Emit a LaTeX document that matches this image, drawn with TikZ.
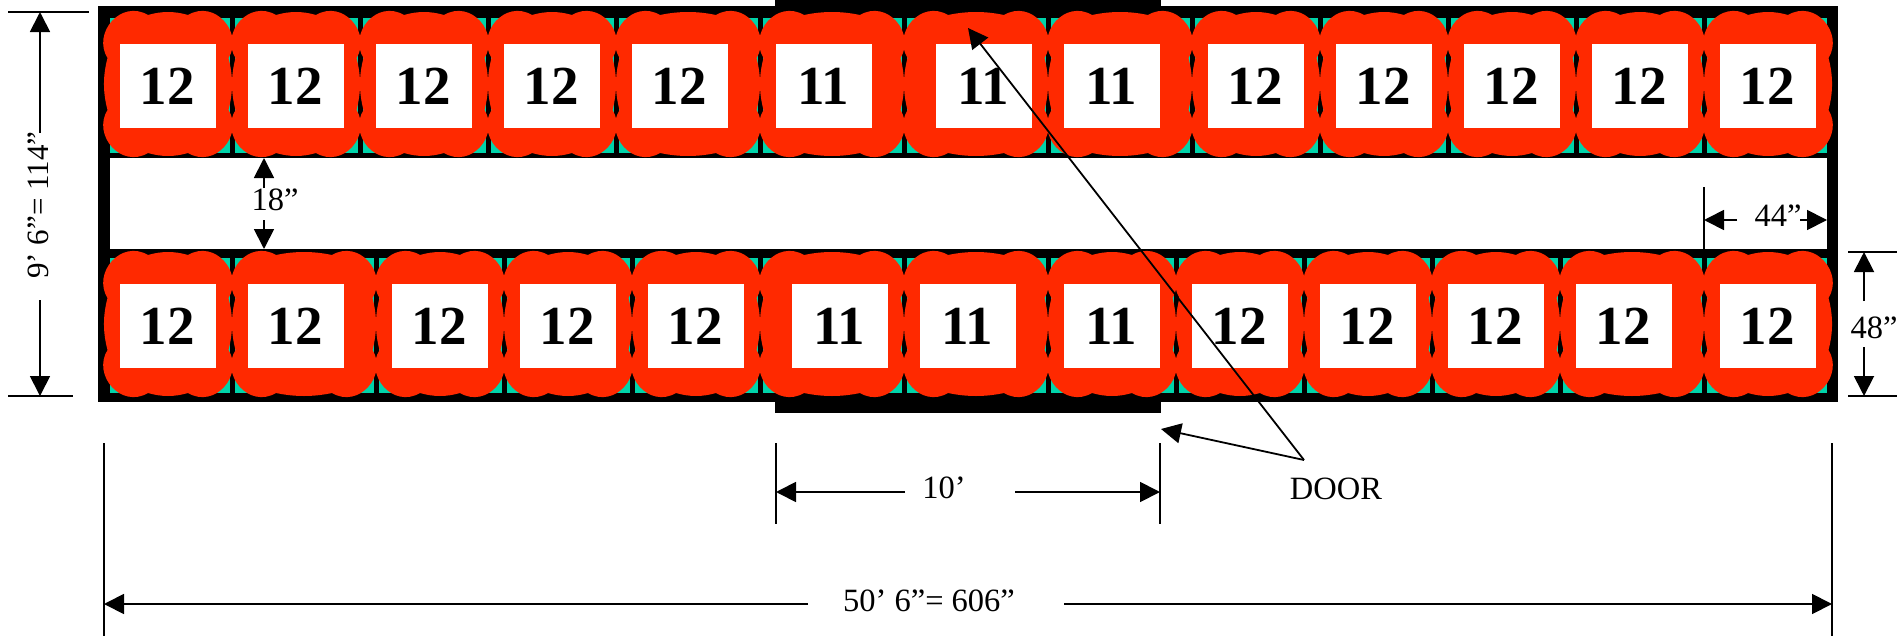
\documentclass[tikz,border=0pt]{standalone}
\usepackage{fontspec}
\setmainfont{Liberation Serif}
\usetikzlibrary{arrows.meta,   % pour les pointes
           positioning}
\definecolor{seatred}{RGB}{255,41,0}
\definecolor{seatteal}{RGB}{0,212,170}
\tikzset{
  seatbox/.style={fill=white,inner sep=0pt,minimum width=96pt,minimum height=84pt,
    font=\fontsize{55}{55}\selectfont\bfseries,execute at begin node={\kern-2pt}},
  dimline/.style={line width=1.8pt},
  dimlabel/.style={inner sep=0pt,font=\fontsize{32.5}{33}\selectfont},
  dimarrow/.style={dimline,-{Triangle[length=20pt,width=20pt]}}
}
% un siège : contour festonné, largeur variable, hauteur 144
\newcommand\seatblob[3]{
\pgfmathsetmacro\w{#2-#1}
\fill[seatred,shift={(#1,#3)}](3.5,46)..controls(-12,21)and(17,-13)..(44,3)
..controls(44+\w/3-29,-1)and(\w-44-\w/3+29,-1)..(\w-44,3)
..controls(\w-17,-13)and(\w+12,21)..(\w-3.5,46)
..controls(\w+1.2,64)and(\w+1.2,80)..(\w-3.5,98)
..controls(\w+12,123)and(\w-17,157)..(\w-44,141)
..controls(\w-44-\w/3+29,145)and(44+\w/3-29,145)..(44,141)
..controls(17,157)and(-12,123)..(3.5,98)
..controls(-1.2,80)and(-1.2,64)..(3.5,46)--cycle;
}
% une rangée : nom, y du haut, liste x0/x1/bord de la case/nombre
\newcommand\seatrow[3]{
\fill[seatteal](110,#2+6)rectangle(1827,#2+141);
\foreach \xa/\xb/\bx/\num in {#3}{\draw[line width=5pt](\xa,#2+6)--(\xa,#2+141);}
\foreach \xa/\xb/\bx/\num in {#3}{\seatblob{\xa}{\xb}{#2}}
\foreach \xa/\xb/\bx/\num [count=\i] in {#3}{\node[seatbox](#1\i)at(\bx+48,#2+74){\num};}
}

\begin{document}
\begin{tikzpicture}[x=1pt,y=-1pt]
\useasboundingbox(0,0)rectangle(1904,637);
\fill(98,6)rectangle(1838,402);
\fill(775,0)rectangle(1161,413);
\fill[white](110,158)rectangle(1827,249);
\seatrow{top}{12}{104/232/120/12,232/360/248/12,360/488/376/12,488/616/504/12,616/760/632/12,
760/904/776/11,904/1048/936/11,1048/1192/1064/11,1192/1320/1208/12,1320/1448/1336/12,
1448/1576/1464/12,1576/1704/1592/12,1704/1832/1720/12}
\seatrow{bot}{252}{104/232/120/12,232/376/248/12,376/504/392/12,504/632/520/12,632/760/648/12,
760/904/792/11,904/1048/920/11,1048/1176/1064/11,1176/1304/1192/12,1304/1432/1320/12,
1432/1560/1448/12,1560/1704/1576/12,1704/1832/1720/12}
\node[dimlabel,rotate=90,font=\fontsize{31}{31}\selectfont](height)at(38,205){9’ 6”= 114”};
\coordinate(htop)at(40,12);
\coordinate(hbot)at(40,396);
\draw[dimline](8,12)--(89,12);
\draw[dimline](8,396)--(73,396);
\draw[dimarrow](40,133)--(htop);
\draw[dimarrow](40,300)--(hbot);
\node[dimlabel](gap)at(275,200){18”};
\coordinate(gtop)at(264,158);
\coordinate(gbot)at(264,249);
\draw[dimarrow](264,188)--(gtop);
\draw[dimarrow](264,220)--(gbot);
\node[dimlabel](bay)at(1778,216){44”};
\coordinate(bleft)at(1704,220);
\coordinate(bright)at(1827,220);
\draw[dimline](1704,187)--(1704,249);
\draw[dimarrow](1737,220)--(bleft);
\draw[dimarrow](1800,220)--(bright);
\node[dimlabel](row)at(1874,328){48”};
\coordinate(rtop)at(1864,252);
\coordinate(rbot)at(1864,396);
\draw[dimline](1848,252)--(1897,252);
\draw[dimline](1848,396)--(1897,396);
\draw[dimarrow](1864,301)--(rtop);
\draw[dimarrow](1864,347)--(rbot);
\node[dimlabel](doorw)at(944,488){10’};
\coordinate(dleft)at(776,492);
\coordinate(dright)at(1160,492);
\draw[dimline](776,443)--(776,524);
\draw[dimline](1160,443)--(1160,524);
\draw[dimarrow](905,492)--(dleft);
\draw[dimarrow](1015,492)--(dright);
\node[dimlabel](door)at(1336,489){DOOR};
\coordinate(apex)at(1304,460);
\coordinate(dtipa)at(1161,429);
\coordinate(dtipb)at(968,28);
\draw[dimarrow](apex)--(dtipa);
\draw[dimarrow](apex)--(dtipb);
\node[dimlabel](total)at(929,601){50’ 6”= 606”};
\coordinate(tleft)at(104,604);
\coordinate(tright)at(1832,604);
\draw[dimline](104,443)--(104,636);
\draw[dimline](1832,443)--(1832,636);
\draw[dimarrow](808,604)--(tleft);
\draw[dimarrow](1064,604)--(tright);
\end{tikzpicture}
\end{document}
